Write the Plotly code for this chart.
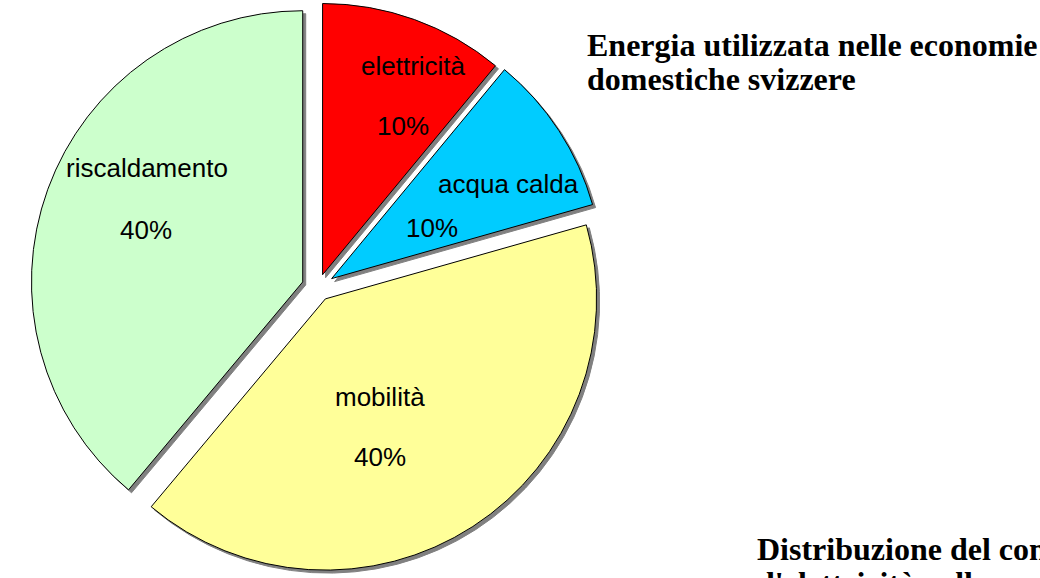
import plotly.graph_objects as go

# Data
categories = ["elettricità", "acqua calda", "mobilità", "riscaldamento"]
values = [11.0, 9.6, 40.5, 38.9]          # slice sizes estimated from the drawn angles
pct_labels = ["10%", "10%", "40%", "40%"]  # labels as printed on the chart
colors = ["#FF0000", "#00CCFF", "#FFFF99", "#CCFFCC"]
pulls = [0.05, 0.06, 0.05, 0.06]

title_lines = ["Energia utilizzata nelle economie", "domestiche svizzere"]
subtitle_lines = ["Distribuzione del consumo", "d'elettricità nelle economie domestiche svizzere"]

W, H = 1040, 578

# layout positions (pixels) of the in-slice labels: (name x, name y, pct x, pct y)
label_pos = [(413, 66, 403, 126), (508, 184, 432, 228), (380, 397, 380, 457), (147, 168, 146, 230)]

# pie geometry (domain in paper units)
cx_px = 318
box = 575
dx = box / W / 2
x0 = cx_px / W - dx
x1 = cx_px / W + dx
sx = 3 / W
sy = 3 / H

fig = go.Figure()

# shadow pie
fig.add_trace(go.Pie(
    labels=categories, values=values, sort=False, direction="clockwise", rotation=0,
    pull=pulls, marker=dict(colors=["#808080"] * 4, line=dict(color="#808080", width=1)),
    textinfo="none", hoverinfo="skip", showlegend=False,
    domain=dict(x=[x0 + sx, x1 + sx], y=[0, 1 - sy]),
))

# main pie
fig.add_trace(go.Pie(
    labels=categories, values=values, sort=False, direction="clockwise", rotation=0,
    pull=pulls, marker=dict(colors=colors, line=dict(color="#000000", width=1)),
    textinfo="none", hoverinfo="label+percent", showlegend=False,
    domain=dict(x=[x0, x1], y=[sy, 1]),
))

label_font = dict(family="Liberation Sans, Arial, sans-serif", size=26, color="#000000")
for name, pct, (nx, ny, px, py) in zip(categories, pct_labels, label_pos):
    for txt, x, y in ((name, nx, ny), (pct, px, py)):
        fig.add_annotation(
            text=txt, xref="paper", yref="paper", x=x / W, y=1 - y / H,
            xanchor="center", yanchor="middle", showarrow=False, font=label_font,
        )

title_font = dict(family="Liberation Serif, Times New Roman, serif", size=32, color="#000000")

def add_line(text, x_px, center_px):
    fig.add_annotation(
        text=f"<b>{text}</b>", xref="paper", yref="paper",
        x=(x_px - 2) / W, y=1 - (center_px + 1) / H, xanchor="left", yanchor="middle",
        showarrow=False, font=title_font, align="left",
    )

add_line(title_lines[0], 587, 44)
add_line(title_lines[1], 587, 78)
add_line(subtitle_lines[0], 757, 548)
add_line(subtitle_lines[1], 757, 582)

fig.update_layout(
    width=W, height=H, margin=dict(l=0, r=0, t=0, b=0),
    paper_bgcolor="white", plot_bgcolor="white",
)

fig.write_html(
    "out.html",
    config={"displayModeBar": False},
    post_script="document.body.style.margin='0';document.body.style.overflow='hidden';",
)
